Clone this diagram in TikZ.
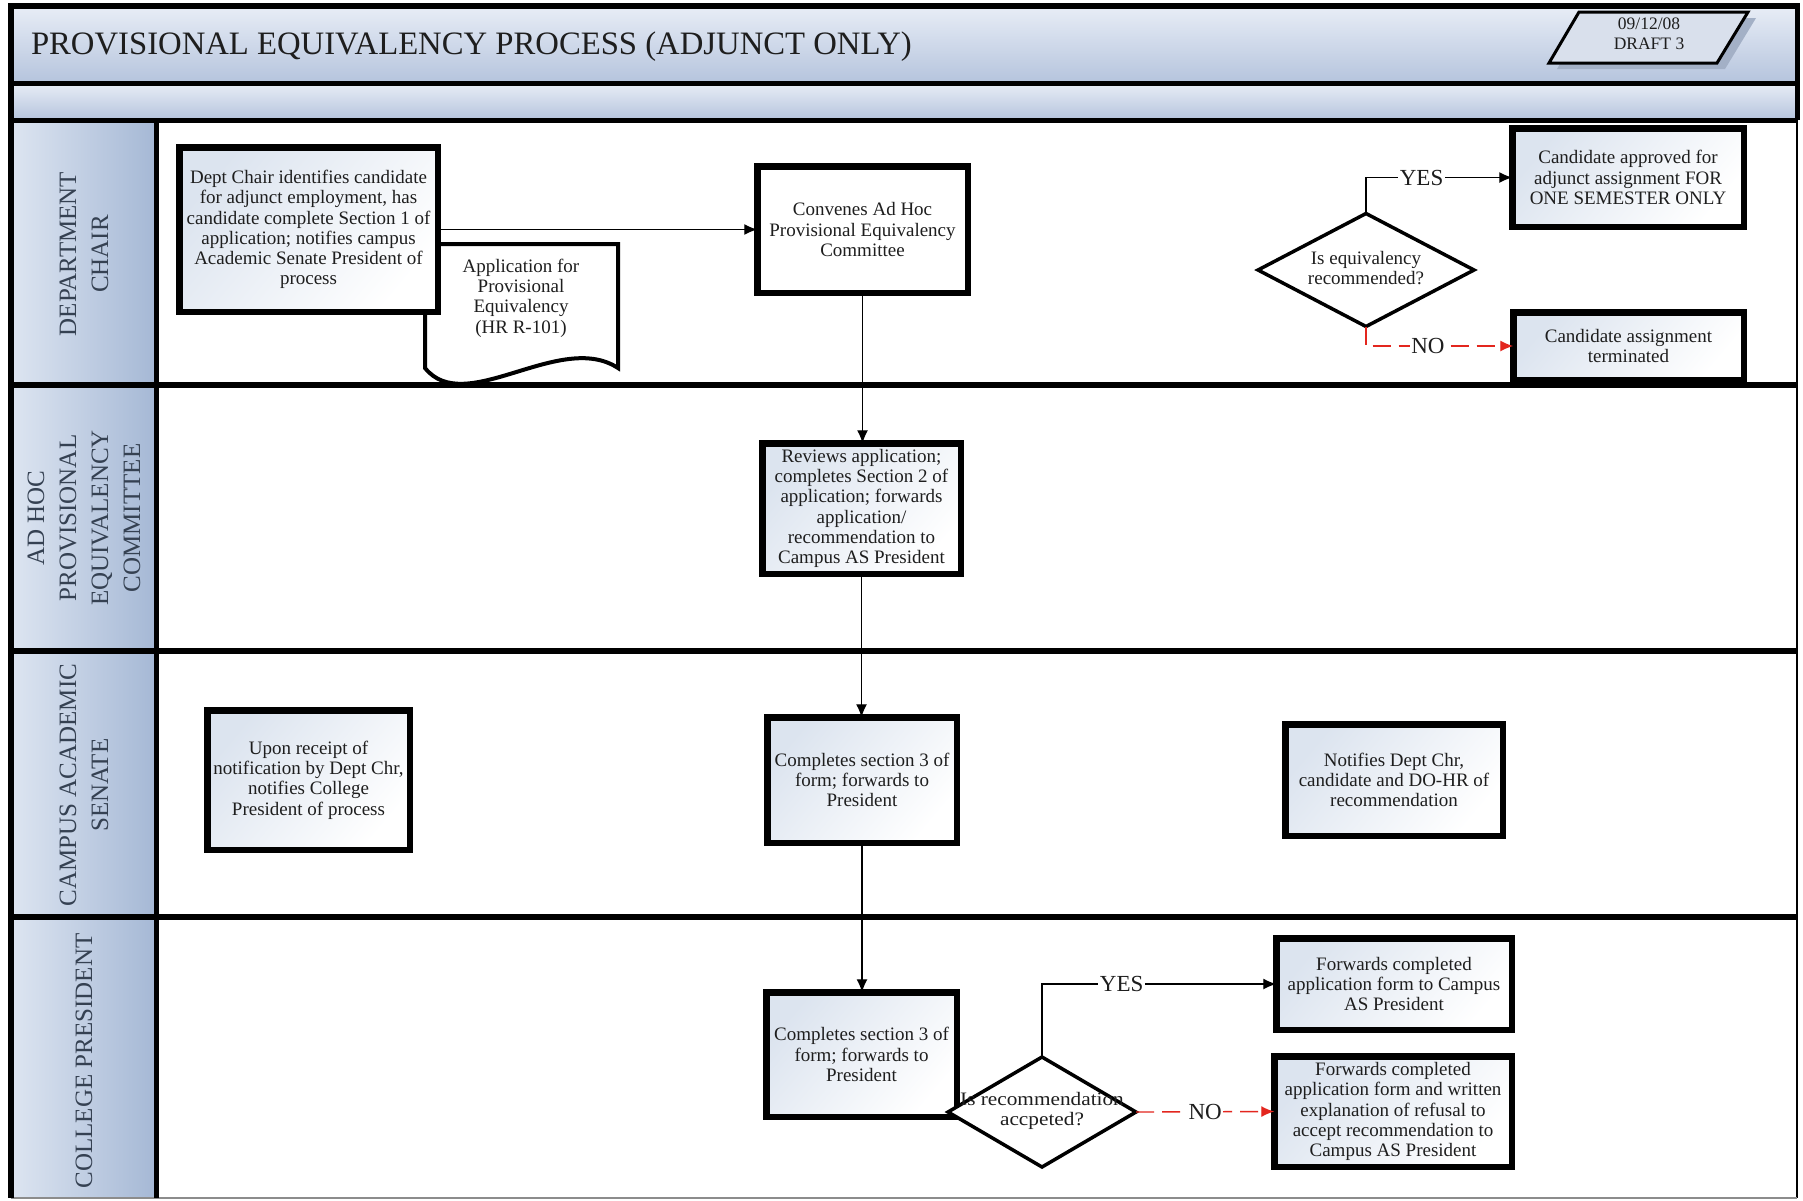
\documentclass[tikz,border=0pt]{standalone}
\usepackage{fontspec}
\setmainfont{Liberation Serif}
\usetikzlibrary{arrows.meta,shapes.geometric}

\definecolor{bandtop}{HTML}{E8EDF6}
\definecolor{bandbot}{HTML}{B5C4DD}
\definecolor{laneleft}{HTML}{DDE5F1}
\definecolor{laneright}{HTML}{A5B8D5}
\definecolor{lanetext}{HTML}{354152}
\definecolor{boxtint}{HTML}{DCE4EF}
\definecolor{inktext}{HTML}{1E1E1E}
\definecolor{nored}{HTML}{E3261E}
\definecolor{datefill}{HTML}{D9E0EC}
\definecolor{dateshadow}{HTML}{A3B0C6}

\newcommand\bxfont{\fontsize{19}{20.3}\selectfont}
\newcommand\lanefont{\fontsize{25}{32}\selectfont}
\newcommand\titlefont{\fontsize{32.7}{36}\selectfont}
\newcommand\tagfont{\fontsize{23}{25}\selectfont}
\newcommand\datefont{\fontsize{17.5}{19.5}\selectfont}

\begin{document}
\begin{tikzpicture}[x=1pt,y=-1pt,
  every node/.style={inner sep=0pt,outer sep=0pt},
  proc/.style={draw=black,line width=6.5pt,align=center,font=\bxfont,text=inktext,
     top color=boxtint,bottom color=white,shading angle=50},
  plainproc/.style={draw=black,line width=6.5pt,align=center,font=\bxfont,text=inktext,fill=white},
  decision/.style={diamond,draw=black,line width=3.5pt,fill=white},
  dectext/.style={align=center,font=\bxfont,text=inktext},
  lanelabel/.style={rotate=90,align=center,font=\lanefont,text=lanetext},
  flow/.style={draw=black,line width=1.4pt,-{Latex[length=13pt,width=11pt]}},
  noflow/.style={draw=nored,line width=1.4pt,dash pattern=on 18pt off 8pt,-{Latex[length=13pt,width=11pt]}},
  tag/.style={font=\tagfont,text=inktext,fill=white,inner xsep=1.5pt,inner ysep=1pt},
]
% canvas
\fill[white] (0,0) rectangle (1803,1200);
\useasboundingbox (0,0) rectangle (1803,1200);

% header bands
\shade[top color=bandtop,bottom color=bandbot] (11,6) rectangle (1797,83);
\shade[top color=bandtop,bottom color=bandbot] (11,83) rectangle (1797,120);

% lane heading column
\shade[left color=laneleft,right color=laneright] (11,120) rectangle (156,1198);

% frame and lane separators
\draw[line width=1.5pt] (1797,120) -- (1797,1198);
\draw[line width=1.2pt,black!45] (11,1198) -- (1797,1198);
\draw[line width=6pt] (11,3) -- (11,1198);
\draw[line width=6pt] (8,6) -- (1800,6);
\draw[line width=5pt] (1797,6) -- (1797,120);
\draw[line width=5pt] (11,83) -- (1797,83);
\draw[line width=5pt] (11,120) -- (1797,120);
\draw[line width=5.5pt] (11,385) -- (1797,385);
\draw[line width=5.5pt] (11,651) -- (1797,651);
\draw[line width=5.5pt] (11,917) -- (1797,917);
\draw[line width=5pt] (156,120) -- (156,1198);

% title and date tag
\node[anchor=west,font=\titlefont,text=inktext] (title) at (31,47) {PROVISIONAL EQUIVALENCY PROCESS (ADJUNCT ONLY)};
\fill[dateshadow] (1587,18) -- (1756,18) -- (1725,69) -- (1557,69) -- cycle;
\draw[line width=3pt,fill=datefill] (1579,12) -- (1748,12) -- (1717,63) -- (1549,63) -- cycle;
\node[font=\datefont,align=center,text=inktext] (date) at (1649,34) {09/12/08\\DRAFT 3};

% lane headings
\node[lanelabel] (lane1) at (84,254) {DEPARTMENT\\CHAIR};
\node[lanelabel] (lane2) at (84,518) {AD HOC\\PROVISIONAL\\EQUIVALENCY\\COMMITTEE};
\node[lanelabel] (lane3) at (84,785) {CAMPUS ACADEMIC\\SENATE};
\node[lanelabel] (lane4) at (84,1061) {COLLEGE PRESIDENT};

% application form (document shape)
\draw[line width=4pt,fill=white] (425,244) -- (618,244) -- (618,368)
   .. controls (560,330) and (465,418) .. (425,368) -- cycle;
\node[dectext] (doc) at (521,298) {Application for\\Provisional\\Equivalency\\(HR R-101)};

% department chair
\node[proc,minimum width=258.5pt,minimum height=164.5pt] (a) at (308.5,229.5)
  {Dept Chair identifies candidate\\for adjunct employment, has\\candidate complete Section 1 of\\application; notifies campus\\Academic Senate President of\\process};
\node[plainproc,minimum width=210.5pt,minimum height=126.5pt] (c) at (862.5,229.5)
  {Convenes Ad Hoc\\Provisional Equivalency\\Committee};
\node[decision,minimum width=216pt,minimum height=113pt] (d1) at (1366,270) {};
\node[dectext] (d1t) at (1366,268) {Is equivalency\\recommended?};
\node[proc,minimum width=231.5pt,minimum height=98.5pt] (e) at (1628,177.5)
  {Candidate approved for\\adjunct assignment FOR\\ONE SEMESTER ONLY};
\node[proc,minimum width=230.5pt,minimum height=67.5pt] (f) at (1628.5,346)
  {Candidate assignment\\terminated};

% ad hoc committee
\node[proc,minimum width=198.5pt,minimum height=130.5pt] (g) at (861.5,508.5)
  {Reviews application;\\completes Section 2 of\\application; forwards\\application/\\recommendation to\\Campus AS President};

% campus academic senate
\node[proc,minimum width=202.5pt,minimum height=139.5pt] (i) at (308.5,780)
  {Upon receipt of\\notification by Dept Chr,\\notifies College\\President of process};
\node[proc,minimum width=189.5pt,minimum height=125.5pt] (h) at (862,780)
  {Completes section 3 of\\form; forwards to\\President};
\node[proc,minimum width=217.5pt,minimum height=111.5pt] (j) at (1394,780)
  {Notifies Dept Chr,\\candidate and DO-HR of\\recommendation};

% college president
\node[proc,minimum width=190.5pt,minimum height=124.5pt] (k) at (861.5,1054.5)
  {Completes section 3 of\\form; forwards to\\President};
\node[decision,minimum width=188pt,minimum height=110pt] (d2) at (1042,1112) {};
\node[dectext,font=\fontsize{19}{20.3}\selectfont\addfontfeature{FakeStretch=1.12}] (d2t) at (1042,1111) {Is recommendation\\accpeted?};
\node[proc,minimum width=235.5pt,minimum height=91.5pt] (l) at (1394,984)
  {Forwards completed\\application form to Campus\\AS President};
\node[proc,minimum width=237.5pt,minimum height=110.5pt] (m) at (1393,1111.5)
  {Forwards completed\\application form and written\\explanation of refusal to\\accept recommendation to\\Campus AS President};

% connectors
\draw[flow] (a.east) -- (c.west);
\draw[flow] (c.south) -- (c.south |- g.north);
\draw[flow] (g.south) -- (g.south |- h.north);
\draw[flow] (h.south) -- (h.south |- k.north);
\draw[flow] (d1.north) |- node[tag,pos=0.69] {YES} (e.west);
\draw[noflow] (d1.south) |- node[tag,pos=0.71] {NO} (f.west);
\draw[flow] (d2.north) |- node[tag,pos=0.67] {YES} (l.west);
\draw[noflow] (d2.east) -- node[tag] {NO} (m.west);
\end{tikzpicture}
\end{document}
